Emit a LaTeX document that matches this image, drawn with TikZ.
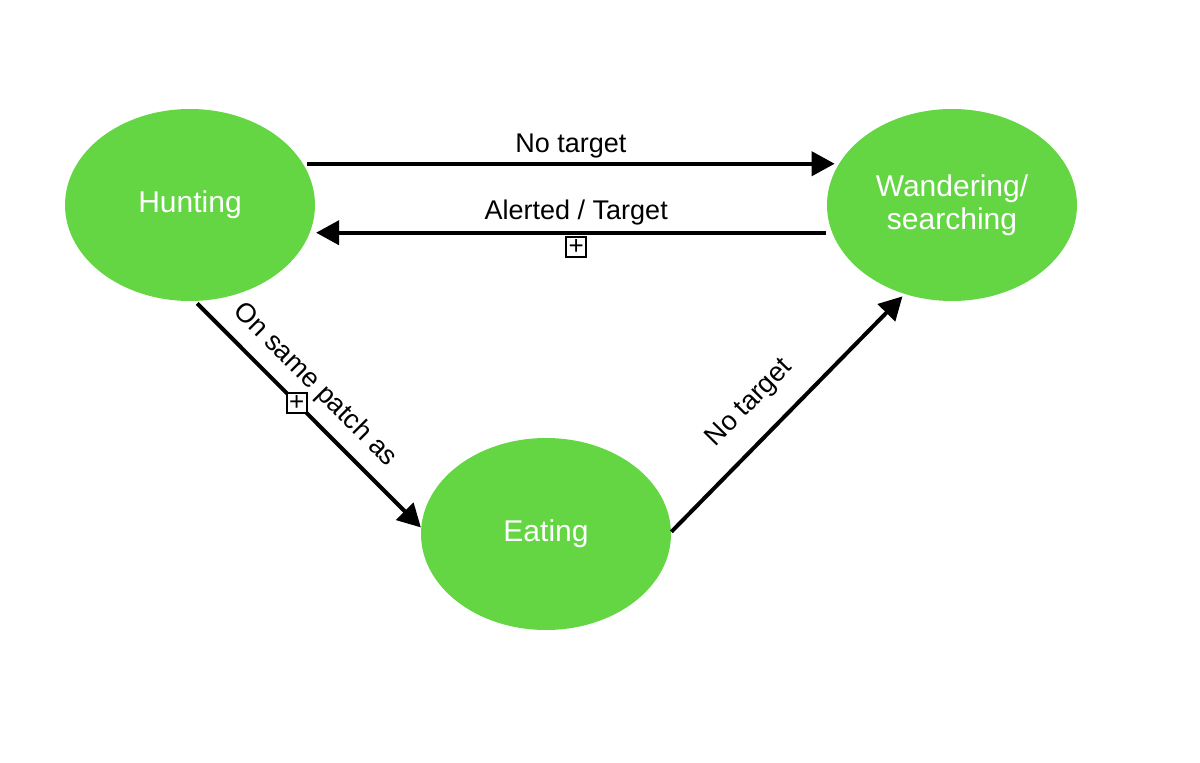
\documentclass[tikz,border=0pt]{standalone}
\usepackage{fontspec}
\setmainfont{Liberation Sans}
\usetikzlibrary{shapes.geometric,arrows.meta}
\definecolor{stategreen}{RGB}{100,214,68}
\tikzset{
state/.style={
  ellipse,
  fill=stategreen,
  text=white,
  minimum width=125pt,
  minimum height=96pt,
  inner sep=0pt,
  align=center,
  font=\fontsize{15}{16.5}\selectfont
},
trans/.style={line width=2pt,-{Triangle[length=11.5pt,width=12pt]}},
lbl/.style={font=\fontsize{13.5}{16}\selectfont,inner sep=1pt},
plusbox/.style={draw,fill=white,line width=1pt,minimum size=10pt,inner sep=0pt,font=\fontsize{13}{13}\selectfont},
}
\begin{document}
\begin{tikzpicture}[x=0.5pt,y=0.5pt]
\useasboundingbox (0,0) rectangle (1200,762);
% the states
\node[state] (hunting) at (190,557) {Hunting};
\node[state] (wandering) at (952,557) {Wandering/\\searching};
\node[state] (eating) at (546,228) {Eating};
% the transitions
\draw[trans,shorten <=2pt,shorten >=2pt] (hunting.20) -- node[lbl,above=1pt] (lnotarget) {No target} (wandering.160);
\draw[trans,shorten <=3pt,shorten >=3pt] (wandering.193) -- node[lbl,above=2pt,pos=0.49] (lalerted) {Alerted / Target} node[plusbox,below=1.5pt,pos=0.49] (plusa) {+} (hunting.-13);
\draw[trans,shorten <=1.5pt] (hunting.-87) -- node[lbl,sloped,above=4.5pt,pos=0.45] (lpatch) {On same patch as} node[plusbox,pos=0.45] (plusb) {+} (eating.177);
\draw[trans,shorten >=1.5pt] (eating.1) -- node[lbl,sloped,above=9pt,pos=0.44] (lnotarget2) {No target} (wandering.242);
\end{tikzpicture}
\end{document}
